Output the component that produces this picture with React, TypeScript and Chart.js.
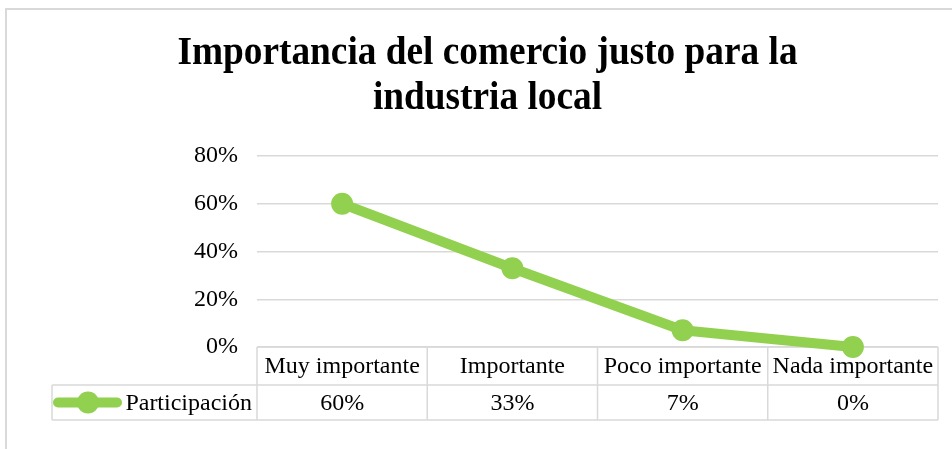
import React, { useEffect, useRef } from "react";
import { Chart, registerables } from "chart.js";

Chart.register(...registerables);

const titleLines = ["Importancia del comercio justo para la", "industria local"];
const categories = ["Muy importante", "Importante", "Poco importante", "Nada importante"];
const seriesName = "Participación";
const participacion = [60, 33, 7, 0];
const yMin = 0;
const yMax = 80;
const yStep = 20;

const GREEN = "#92D050";
const GRID = "#D9D9D9";
const FONT = "'Liberation Serif', 'Times New Roman', serif";

const framePlugin = {
  id: "frame",
  beforeDraw(chart: any) {
    const ctx = chart.ctx;
    ctx.save();
    ctx.fillStyle = "#fff";
    ctx.fillRect(0, 0, chart.width, chart.height);
    ctx.strokeStyle = GRID;
    ctx.lineWidth = 2;
    ctx.beginPath();
    ctx.moveTo(6, chart.height);
    ctx.lineTo(6, 9);
    ctx.lineTo(chart.width, 9);
    ctx.stroke();
    ctx.restore();
  },
};

const titlePlugin = {
  id: "customTitle",
  afterDraw(chart: any) {
    const ctx = chart.ctx;
    ctx.save();
    ctx.fillStyle = "#000";
    ctx.font = `bold 39px ${FONT}`;
    ctx.textAlign = "center";
    ctx.textBaseline = "alphabetic";
    const cx = 487.5;
    const baselines = [64, 109];
    titleLines.forEach((t, i) => {
      ctx.save();
      ctx.translate(cx, baselines[i]);
      ctx.scale(0.957, 1);
      ctx.fillText(t, 0, 0);
      ctx.restore();
    });
    ctx.restore();
  },
};

const tablePlugin = {
  id: "dataTable",
  beforeDatasetsDraw(chart: any) {
    const ctx = chart.ctx;
    const x = chart.scales.x;
    const area = chart.chartArea;
    const n = categories.length;
    const step = (x.right - x.left) / n;
    const top = area.bottom;
    const mid = top + 38;
    const bot = mid + 35;
    const legendLeft = 52;
    ctx.save();
    ctx.strokeStyle = GRID;
    ctx.lineWidth = 1.5;
    const line = (x1: number, y1: number, x2: number, y2: number) => {
      ctx.beginPath();
      ctx.moveTo(x1, y1);
      ctx.lineTo(x2, y2);
      ctx.stroke();
    };
    line(x.left, top, x.right, top);
    line(legendLeft, mid, x.right, mid);
    line(legendLeft, bot, x.right, bot);
    for (let i = 0; i <= n; i++) {
      const xx = x.left + i * step;
      line(xx, top, xx, bot);
    }
    line(legendLeft, mid, legendLeft, bot);

    ctx.fillStyle = "#000";
    ctx.font = `24px ${FONT}`;
    ctx.textAlign = "center";
    ctx.textBaseline = "middle";
    categories.forEach((c, i) => {
      ctx.fillText(c, x.getPixelForValue(i), (top + mid) / 2 + 1);
    });
    participacion.forEach((v, i) => {
      ctx.fillText(`${v}%`, x.getPixelForValue(i), (mid + bot) / 2 + 1);
    });

    // legend key
    const ly = (mid + bot) / 2;
    ctx.strokeStyle = GREEN;
    ctx.lineWidth = 10;
    ctx.lineCap = "round";
    line(legendLeft + 6, ly, legendLeft + 65, ly);
    ctx.fillStyle = GREEN;
    ctx.beginPath();
    ctx.arc(legendLeft + 36, ly, 11, 0, Math.PI * 2);
    ctx.fill();
    ctx.fillStyle = "#000";
    ctx.textAlign = "right";
    ctx.fillText(seriesName, x.left - 5, ly + 1);
    ctx.restore();
  },
};

export default function App() {
  const ref = useRef<HTMLCanvasElement>(null);
  useEffect(() => {
    if (!ref.current) return;
    const chart = new Chart(ref.current, {
      type: "line",
      data: {
        labels: categories,
        datasets: [
          {
            label: seriesName,
            data: participacion,
            borderColor: GREEN,
            backgroundColor: GREEN,
            borderWidth: 10,
            pointRadius: 11,
            pointHoverRadius: 11,
            pointBackgroundColor: GREEN,
            pointBorderWidth: 0,
            tension: 0,
            clip: false as any,
            borderJoinStyle: "round",
            borderCapStyle: "round",
          },
        ],
      },
      options: {
        animation: false,
        responsive: true,
        maintainAspectRatio: false,
        layout: { padding: { left: 0, right: 14, top: 156, bottom: 0 } },
        plugins: {
          legend: { display: false },
          title: { display: false },
          tooltip: { enabled: false },
        },
        scales: {
          x: {
            type: "category",
            offset: true,
            grid: { display: false },
            border: { display: false },
            ticks: { display: false },
            afterFit: (s: any) => {
              s.height = 102;
            },
          },
          y: {
            min: yMin,
            max: yMax,
            grid: { color: GRID, lineWidth: 1.5, drawTicks: false },
            border: { display: false },
            ticks: {
              stepSize: yStep,
              padding: 19,
              color: "#000",
              font: { family: FONT, size: 24 },
              callback: (v: any) => `${v}%`,
            },
            afterFit: (s: any) => {
              s.width = 257;
            },
          },
        },
      },
      plugins: [framePlugin, tablePlugin, titlePlugin],
    });
    return () => chart.destroy();
  }, []);
  return (
    <div style={{ position: "fixed", left: 0, top: 0, width: 952, height: 449, background: "#fff" }}>
      <canvas ref={ref} />
    </div>
  );
}
